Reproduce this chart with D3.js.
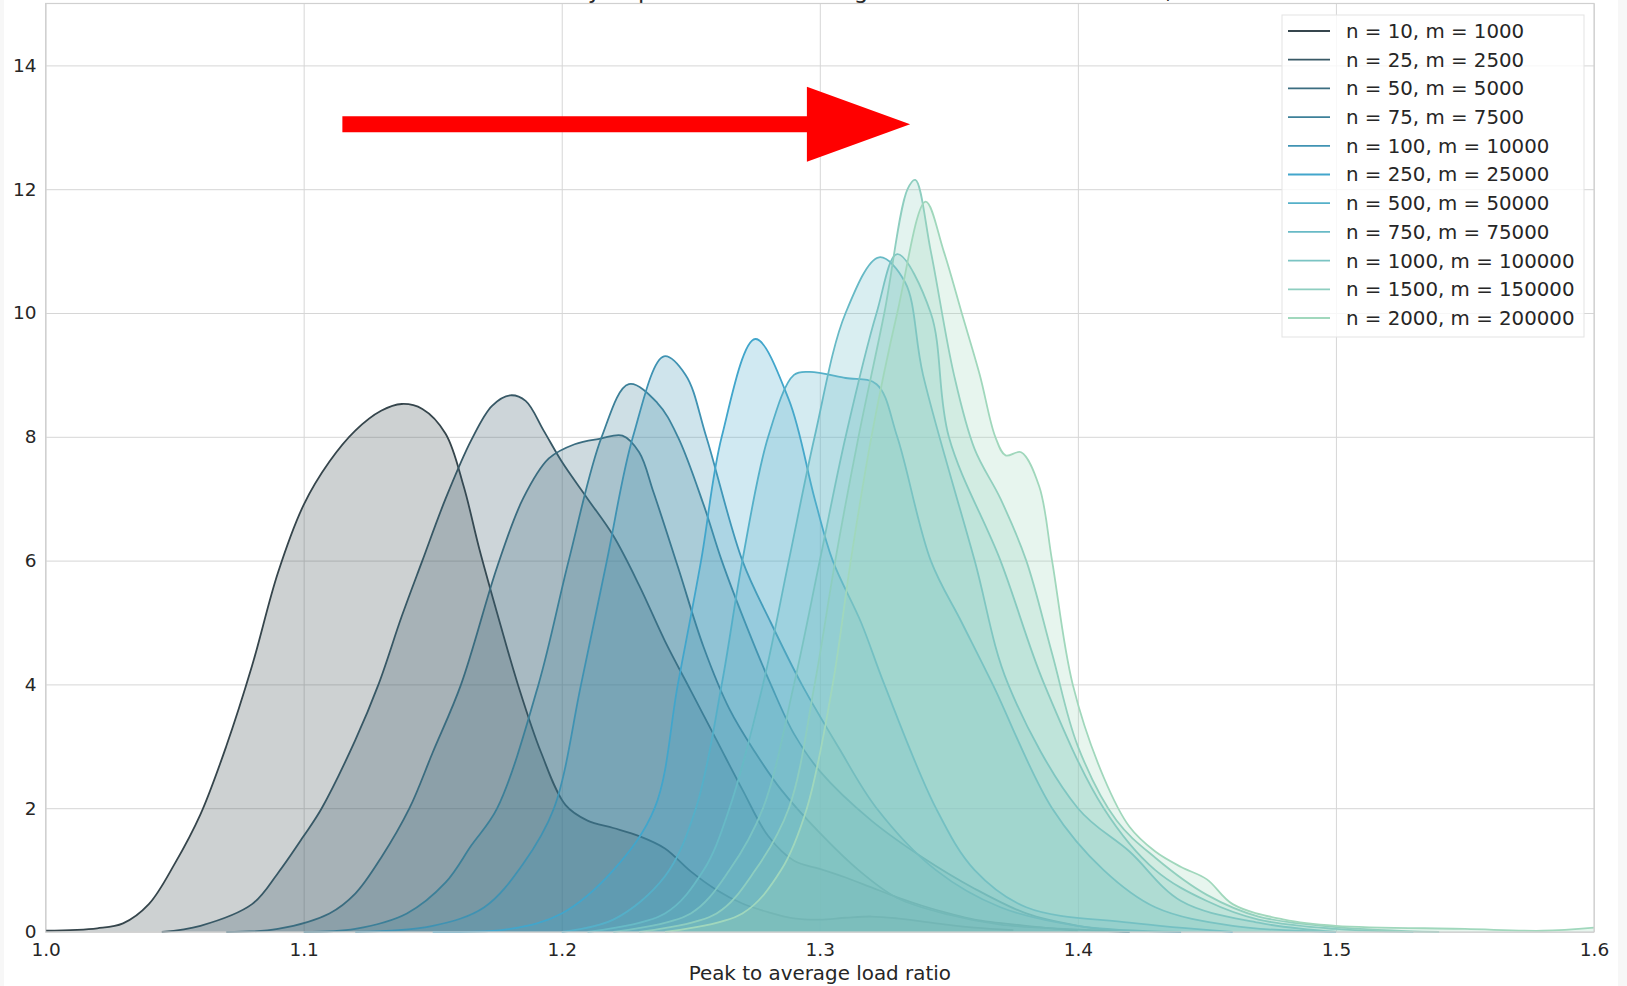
<!DOCTYPE html>
<html>
<head>
<meta charset="utf-8">
<script src="https://cdn.jsdelivr.net/npm/d3@7"></script>
<style>
  body { margin: 0; background: #fff; }
  text { font-family: "DejaVu Sans", sans-serif; fill: #262626; }
</style>
</head>
<body>
<svg id="chart" width="1627" height="986"></svg>
<script>
// legend labels, one per kde curve
const labels = [
  "n = 10, m = 1000", "n = 25, m = 2500", "n = 50, m = 5000", "n = 75, m = 7500",
  "n = 100, m = 10000", "n = 250, m = 25000", "n = 500, m = 50000", "n = 750, m = 75000",
  "n = 1000, m = 100000", "n = 1500, m = 150000", "n = 2000, m = 200000"
];

// density curves, [ratio, density]
const kde10 = [[1.0,0.02],[1.02,0.06],[1.03,0.14],[1.04,0.45],[1.05,1.1],[1.06,1.9],[1.07,3.0],[1.08,4.3],[1.09,5.8],[1.10,6.9],[1.11,7.6],[1.12,8.1],[1.13,8.42],[1.138,8.53],[1.146,8.45],[1.155,8.05],[1.162,7.2],[1.168,6.2],[1.176,5.0],[1.183,4.0],[1.192,2.9],[1.2015,2.05],[1.21,1.8],[1.22,1.68],[1.23,1.55],[1.24,1.35],[1.25,0.98],[1.26,0.68],[1.27,0.46],[1.28,0.32],[1.29,0.22],[1.30,0.2],[1.31,0.23],[1.32,0.25],[1.33,0.22],[1.345,0.14],[1.36,0.07],[1.375,0.03]];
const kde25 = [[1.045,0.0],[1.06,0.1],[1.08,0.45],[1.09,0.95],[1.10,1.55],[1.107,2.0],[1.12,3.1],[1.129,4.0],[1.138,5.1],[1.146,6.0],[1.155,7.0],[1.165,7.95],[1.173,8.5],[1.18,8.67],[1.186,8.58],[1.193,8.1],[1.20,7.6],[1.21,7.0],[1.22,6.4],[1.23,5.6],[1.24,4.7],[1.25,3.9],[1.26,3.1],[1.27,2.3],[1.28,1.55],[1.29,1.15],[1.30,1.02],[1.31,0.88],[1.32,0.72],[1.33,0.56],[1.34,0.42],[1.35,0.3],[1.36,0.2],[1.38,0.1],[1.40,0.02]];
const kde50 = [[1.07,0.0],[1.09,0.05],[1.11,0.3],[1.12,0.62],[1.13,1.2],[1.141,2.0],[1.15,2.9],[1.161,4.0],[1.175,5.9],[1.185,7.0],[1.195,7.65],[1.205,7.88],[1.215,7.97],[1.2235,8.02],[1.23,7.75],[1.2356,7.1],[1.245,5.9],[1.255,4.6],[1.265,3.6],[1.275,2.9],[1.285,2.3],[1.30,1.6],[1.315,1.0],[1.33,0.55],[1.35,0.28],[1.37,0.12],[1.40,0.04],[1.42,0.0]];
const kde75 = [[1.10,0.0],[1.12,0.05],[1.14,0.3],[1.155,0.8],[1.165,1.4],[1.175,2.0],[1.191,4.0],[1.2027,6.0],[1.2155,8.0],[1.226,8.85],[1.237,8.55],[1.245,8.0],[1.255,6.9],[1.262,6.0],[1.272,4.9],[1.281,4.0],[1.29,3.2],[1.30,2.6],[1.32,1.8],[1.34,1.2],[1.36,0.7],[1.38,0.3],[1.40,0.1],[1.42,0.0]];
const kde100 = [[1.12,0.0],[1.15,0.1],[1.17,0.4],[1.185,1.1],[1.197,2.0],[1.2075,4.0],[1.2175,6.0],[1.2276,8.0],[1.2396,9.3],[1.248,9.0],[1.256,8.0],[1.27,6.0],[1.281,5.0],[1.293,4.0],[1.307,3.0],[1.322,2.0],[1.345,1.0],[1.37,0.4],[1.40,0.1],[1.44,0.0]];
const kde250 = [[1.15,0.0],[1.18,0.05],[1.20,0.3],[1.22,1.0],[1.236,2.0],[1.245,4.0],[1.254,6.0],[1.262,8.0],[1.275,9.58],[1.288,8.6],[1.298,7.0],[1.305,6.0],[1.316,5.0],[1.325,4.0],[1.345,2.0],[1.36,1.0],[1.38,0.4],[1.42,0.15],[1.46,0.0]];
const kde500 = [[1.20,0.0],[1.22,0.2],[1.24,0.9],[1.252,2.0],[1.262,4.0],[1.27,6.0],[1.28,8.0],[1.29,9.0],[1.296,9.05],[1.31,8.95],[1.322,8.85],[1.33,8.0],[1.343,6.0],[1.355,5.0],[1.367,4.0],[1.39,2.0],[1.41,1.0],[1.43,0.4],[1.46,0.1],[1.50,0.0]];
const kde750 = [[1.21,0.0],[1.24,0.3],[1.255,1.0],[1.265,2.0],[1.278,4.0],[1.288,6.0],[1.298,8.0],[1.31,10.0],[1.323,10.9],[1.333,10.5],[1.34,9.0],[1.36,6.0],[1.373,4.0],[1.40,2.0],[1.42,1.3],[1.44,0.5],[1.47,0.15],[1.50,0.0]];
const kde1000 = [[1.22,0.0],[1.25,0.3],[1.265,1.0],[1.278,2.0],[1.29,4.0],[1.30,6.0],[1.31,8.0],[1.322,10.0],[1.33,10.95],[1.343,10.0],[1.35,8.0],[1.37,6.0],[1.387,4.0],[1.41,2.0],[1.43,1.0],[1.45,0.5],[1.47,0.2],[1.50,0.05],[1.53,0.0]];
const kde1500 = [[1.23,0.0],[1.26,0.3],[1.275,1.0],[1.288,2.0],[1.298,4.0],[1.306,6.0],[1.315,8.0],[1.325,10.0],[1.334,12.0],[1.337,12.15],[1.343,11.0],[1.352,9.0],[1.36,7.8],[1.37,7.0],[1.38,6.0],[1.39,4.5],[1.40,3.0],[1.415,1.8],[1.43,1.2],[1.45,0.6],[1.47,0.25],[1.50,0.08],[1.54,0.0]];
const kde2000 = [[1.24,0.0],[1.27,0.3],[1.285,1.0],[1.295,2.0],[1.305,4.0],[1.312,6.0],[1.32,8.0],[1.33,10.0],[1.341,11.8],[1.348,11.0],[1.355,10.0],[1.362,9.0],[1.368,8.0],[1.372,7.7],[1.378,7.75],[1.385,7.2],[1.39,6.0],[1.398,4.0],[1.41,2.5],[1.42,1.7],[1.43,1.3],[1.44,1.05],[1.45,0.85],[1.46,0.45],[1.48,0.2],[1.50,0.1],[1.55,0.05],[1.58,0.02],[1.60,0.07]];

const xTicks = [1.0, 1.1, 1.2, 1.3, 1.4, 1.5, 1.6];
const yTicks = [0, 2, 4, 6, 8, 10, 12, 14];

// arrow drawn on the axes: start, end of shaft, tip (data units)
const arrowStart = 1.115, arrowHeadBase = 1.295, arrowTip = 1.335;
const arrowY = 13.05, arrowWidth = 0.26, arrowHeadWidth = 1.21;

const series = [kde10, kde25, kde50, kde75, kde100, kde250, kde500, kde750, kde1000, kde1500, kde2000];

const svg = d3.select("#chart");
const plotLeft = 45.6, plotRight = 1594, plotTop = 3.5, plotBottom = 932;

// light strips at the page edges
svg.append("rect").attr("x", 0).attr("y", 0).attr("width", 4).attr("height", 986).attr("fill", "#f7f7f7");
svg.append("rect").attr("x", 1618).attr("y", 0).attr("width", 9).attr("height", 986).attr("fill", "#f7f7f7");

var x = d3.scaleLinear().domain([1.0, 1.6]).range([plotLeft, plotRight]);
var y = d3.scaleLinear().domain([0, 15]).range([plotBottom, plotTop]);

// GnBu_d like palette: dark gray -> blue -> pale green, sampled inside the ends
var pal = d3.piecewise(d3.interpolateRgb, ["#333333", "#42a6cc", "#b4e2ba"]);
var colors = series.map((s, i) => pal((i + 1) / (series.length + 1)));

// grid
svg.append("g")
  .attr("transform", "translate(0," + plotBottom + ")")
  .call(d3.axisBottom(x).tickValues(xTicks).tickSize(-(plotBottom - plotTop)).tickFormat(""))
  .call(g => g.select(".domain").remove())
  .call(g => g.selectAll("line").attr("stroke", "#d6d6d6").attr("stroke-width", 1));
svg.append("g")
  .attr("transform", "translate(" + plotLeft + ",0)")
  .call(d3.axisLeft(y).tickValues(yTicks).tickSize(-(plotRight - plotLeft)).tickFormat(""))
  .call(g => g.select(".domain").remove())
  .call(g => g.selectAll("line").attr("stroke", "#d6d6d6").attr("stroke-width", 1));

// title, mostly outside the picture as in the source image
svg.append("text")
  .attr("x", (plotLeft + plotRight) / 2).attr("y", -2)
  .attr("text-anchor", "middle")
  .style("font-size", "23px")
  .text("Kernel density of peak load to average load ratio for different n, m");

var area = d3.area().x(d => x(d[0])).y0(y(0)).y1(d => y(d[1])).curve(d3.curveCatmullRom.alpha(0.5));
var line = d3.line().x(d => x(d[0])).y(d => y(d[1])).curve(d3.curveCatmullRom.alpha(0.5));

var plot = svg.append("g");
series.forEach(function(s, i) {
  plot.append("path")
    .attr("d", line(s))
    .attr("fill", "none")
    .attr("stroke", colors[i])
    .attr("stroke-width", 1.8);
  plot.append("path")
    .attr("d", area(s))
    .attr("fill", colors[i])
    .attr("fill-opacity", 0.25);
});

// frame
svg.append("rect")
  .attr("x", plotLeft).attr("y", plotTop).attr("width", plotRight - plotLeft).attr("height", plotBottom - plotTop)
  .attr("fill", "none").attr("stroke", "#d0d0d0").attr("stroke-width", 1.2);

// tick labels
svg.append("g")
  .attr("transform", "translate(0," + plotBottom + ")")
  .call(d3.axisBottom(x).tickValues(xTicks).tickSize(0).tickPadding(11).tickFormat(d3.format(".1f")))
  .call(g => g.select(".domain").remove())
  .call(g => g.selectAll("text").style("font-size", "18.5px").attr("fill", "#262626"));
svg.append("g")
  .attr("transform", "translate(" + plotLeft + ",0)")
  .call(d3.axisLeft(y).tickValues(yTicks).tickSize(0).tickPadding(9).tickFormat(d3.format("d")))
  .call(g => g.select(".domain").remove())
  .call(g => g.selectAll("text").style("font-size", "18.5px").attr("fill", "#262626"));

svg.append("text")
  .attr("x", (plotLeft + plotRight) / 2).attr("y", 980)
  .attr("text-anchor", "middle")
  .style("font-size", "19.9px")
  .text("Peak to average load ratio");

// red arrow
var ah = arrowWidth / 2, hh = arrowHeadWidth / 2;
var arrowPts = [
  [arrowStart, arrowY + ah], [arrowHeadBase, arrowY + ah], [arrowHeadBase, arrowY + hh],
  [arrowTip, arrowY], [arrowHeadBase, arrowY - hh], [arrowHeadBase, arrowY - ah], [arrowStart, arrowY - ah]
];
svg.append("path")
  .attr("d", d3.line().x(d => x(d[0])).y(d => y(d[1]))(arrowPts) + "Z")
  .attr("fill", "#ff0000");

// legend
var lg = svg.append("g").attr("transform", "translate(1282,15)");
lg.append("rect")
  .attr("width", 302).attr("height", 322)
  .attr("fill", "#ffffff").attr("fill-opacity", 0.8)
  .attr("stroke", "#e3e3e3");
labels.forEach(function(l, i) {
  var row = lg.append("g").attr("transform", "translate(0," + (16 + i * 28.7) + ")");
  row.append("line")
    .attr("x1", 6).attr("x2", 48)
    .attr("stroke", colors[i]).attr("stroke-width", 1.8);
  row.append("text")
    .attr("x", 64).attr("dy", "0.35em")
    .style("font-size", "19.8px")
    .text(l);
});
</script>
</body>
</html>
